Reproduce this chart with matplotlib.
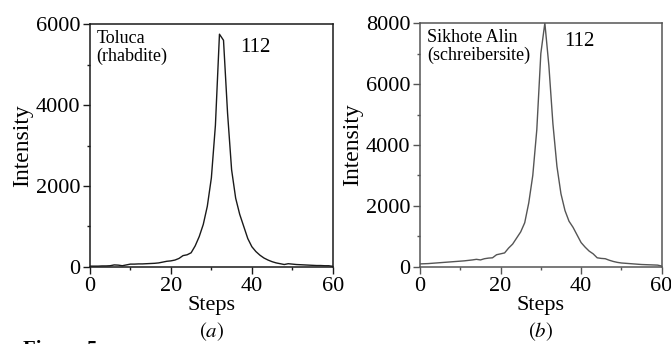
import matplotlib
matplotlib.use('Agg')
import matplotlib.pyplot as plt
from matplotlib.ticker import MultipleLocator

plt.rcParams['font.family'] = ['Liberation Serif', 'DejaVu Serif']
plt.rcParams['mathtext.fontset'] = 'stix'

# data
steps = list(range(0, 61))
toluca = [20, 20, 20, 25, 25, 30, 50, 45, 30, 50,
          70, 70, 75, 75, 80, 85, 90, 100, 120, 140,
          150, 170, 210, 280, 300, 350, 520, 750, 1050, 1500,
          2200, 3500, 5750, 5600, 3800, 2400, 1700, 1300, 1000, 700,
          500, 380, 290, 220, 170, 130, 100, 80, 60, 80,
          70, 60, 55, 50, 45, 40, 35, 35, 30, 30, 15]
sikhote = [100, 105, 110, 120, 130, 140, 150, 160, 170, 180,
           190, 200, 215, 230, 250, 230, 270, 290, 300, 400,
           430, 460, 620, 750, 950, 1150, 1450, 2100, 3000, 4500,
           7000, 8000, 6600, 4700, 3300, 2400, 1850, 1500, 1300, 1050,
           800, 650, 520, 430, 300, 280, 270, 220, 180, 150,
           130, 120, 110, 100, 90, 80, 75, 70, 65, 60, 30]

fig = plt.figure(figsize=(6.71, 3.44), dpi=100)
fig.patch.set_facecolor('white')

ax1 = fig.add_axes([0.134, 0.224, 0.362, 0.706])
ax2 = fig.add_axes([0.626, 0.224, 0.360, 0.709])

panels = [
    (ax1, toluca, 6000, 'Toluca\n(rhabdite)', (0.68, 0.905), '(a)', '#1a1a1a'),
    (ax2, sikhote, 8000, 'Sikhote Alin\n(schreibersite)', (0.66, 0.925), '(b)', '#555555'),
]

for ax, vals, ymax, name, pos112, tag, col in panels:
    ax.plot(steps, vals, color=col, lw=1.0)
    ax.set_xlim(0, 60)
    ax.set_ylim(0, ymax)
    ax.xaxis.set_major_locator(MultipleLocator(20))
    ax.xaxis.set_minor_locator(MultipleLocator(10))
    ax.yaxis.set_major_locator(MultipleLocator(2000))
    ax.yaxis.set_minor_locator(MultipleLocator(1000))
    ax.tick_params(which='major', direction='out', length=5, width=1,
                   labelsize=16, color=col, pad=2)
    ax.tick_params(which='minor', direction='out', length=2.5, width=1, color=col)
    for s in ax.spines.values():
        s.set_color(col)
        s.set_linewidth(1.1)
    ax.set_xlabel('Steps', fontsize=16, labelpad=0)
    ax.set_ylabel('Intensity', fontsize=17, labelpad=2)
    ax.text(0.028, 0.975, name, transform=ax.transAxes, ha='left', va='top',
            fontsize=13, linespacing=1.05)
    ax.text(pos112[0], pos112[1], '112', transform=ax.transAxes,
            ha='center', va='center', fontsize=15)
    bb = ax.get_position()
    fig.text((bb.x0 + bb.x1) / 2, 0.035,
             '$(' + tag[1] + ')$', ha='center', va='center', fontsize=15)

fig.text(0.035, 0.012, 'Figure 5', ha='left', va='top',
         fontsize=15, fontweight='bold')

plt.savefig('out.png', dpi=100, facecolor='white')
plt.close()
